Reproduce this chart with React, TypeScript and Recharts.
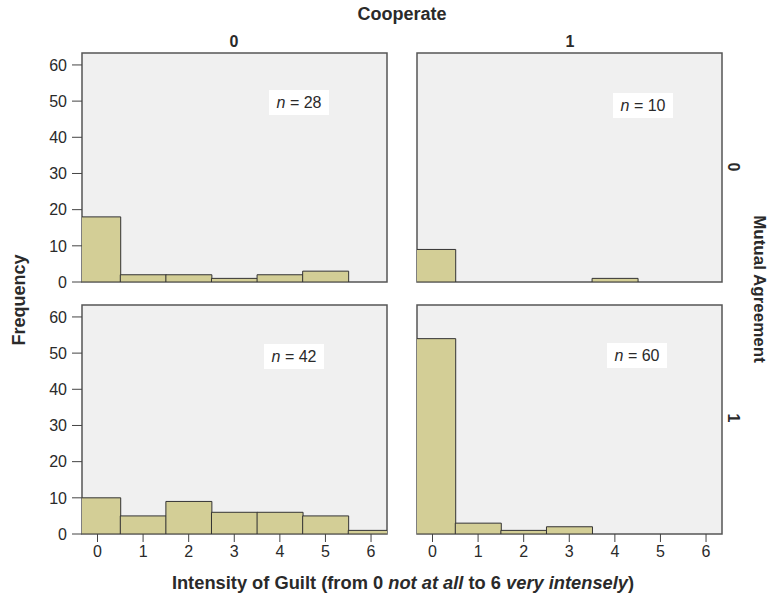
import React from 'react';
import { BarChart, Bar, XAxis, YAxis, CartesianGrid, ReferenceArea } from 'recharts';

// ---- data ----
const guiltLevels = [0, 1, 2, 3, 4, 5, 6];
const coop0Agree0 = [18, 2, 2, 1, 2, 3, 0];
const coop1Agree0 = [9, 0, 0, 0, 1, 0, 0];
const coop0Agree1 = [10, 5, 9, 6, 6, 5, 1];
const coop1Agree1 = [54, 3, 1, 2, 0, 0, 0];
const panelNs = [28, 10, 42, 60];
const yTicks = [0, 10, 20, 30, 40, 50, 60];
const xTicks = [0, 1, 2, 3, 4, 5, 6];
const columnLabels = ['0', '1'];
const rowLabels = ['0', '1'];

const X_DOMAIN: [number, number] = [-0.34, 6.35];
const Y_MAX = 63.3;
const FONT = '"Liberation Sans", Arial, Helvetica, sans-serif';
const TEXT = '#2a2a2a';

type PanelProps = {
  values: number[];
  x: number;
  y: number;
  w: number;
  h: number;
  showY: boolean;
  showX: boolean;
};

function Panel({ values, x, y, w, h, showY, showX }: PanelProps) {
  const data = guiltLevels.map((g, i) => ({ level: g, count: values[i] }));
  const ML = 60, MR = 10, MT = 10, MB = 40;
  return (
    <div style={{ position: 'absolute', left: x - ML, top: y - MT }}>
      <BarChart
        width={w + ML + MR}
        height={h + MT + MB}
        data={data}
        margin={{ top: MT, right: MR, left: showY ? 0 : ML, bottom: showX ? 0 : MB }}
        barCategoryGap={0}
        barGap={0}
      >
        <CartesianGrid horizontal={false} vertical={false} fill="#f0f0f0" />
        <XAxis
          dataKey="level"
          type="number"
          domain={X_DOMAIN}
          ticks={xTicks}
          interval={0}
          allowDataOverflow
          hide={!showX}
          height={MB}
          axisLine={false}
          tickLine={{ stroke: '#444' }}
          tickSize={8}
          tickMargin={4}
          tick={{ fill: TEXT, fontSize: 16, fontFamily: FONT }}
        />
        <YAxis
          type="number"
          domain={[0, Y_MAX]}
          ticks={yTicks}
          interval={0}
          allowDataOverflow
          hide={!showY}
          width={ML}
          axisLine={false}
          tickLine={{ stroke: '#444' }}
          tickSize={10}
          tickMargin={5}
          tick={{ fill: TEXT, fontSize: 16, fontFamily: FONT }}
        />
        <Bar dataKey="count" fill="#d3ce96" stroke="#333" strokeWidth={1} isAnimationActive={false} />
        <ReferenceArea
          x1={X_DOMAIN[0]}
          x2={X_DOMAIN[1]}
          y1={0}
          y2={Y_MAX}
          fill="none"
          fillOpacity={0}
          stroke="#555"
          strokeWidth={1.5}
          ifOverflow="visible"
        />
      </BarChart>
    </div>
  );
}

function NLabel({ n, cx, cy }: { n: number; cx: number; cy: number }) {
  return (
    <div
      style={{
        position: 'absolute',
        left: cx - 30,
        top: cy - 12,
        width: 60,
        height: 25,
        background: '#fff',
        display: 'flex',
        alignItems: 'center',
        justifyContent: 'center',
        fontFamily: FONT,
        fontSize: 16,
        color: TEXT,
        whiteSpace: 'nowrap',
      }}
    >
      <span style={{ fontStyle: 'italic' }}>n</span>&nbsp;=&nbsp;{n}
    </div>
  );
}

const abs = (left: number, top: number, extra: React.CSSProperties = {}): React.CSSProperties => ({
  position: 'absolute',
  left,
  top,
  fontFamily: FONT,
  color: TEXT,
  fontWeight: 'bold',
  whiteSpace: 'nowrap',
  ...extra,
});

export default function App() {
  const PX = [82, 417];
  const PY = [53, 305];
  const W = 305;
  const H = 229;
  return (
    <div style={{ position: 'absolute', left: 0, top: 0, width: 768, height: 602, background: '#fff', overflow: 'hidden' }}>
      <Panel values={coop0Agree0} x={PX[0]} y={PY[0]} w={W} h={H} showY showX={false} />
      <Panel values={coop1Agree0} x={PX[1]} y={PY[0]} w={W} h={H} showY={false} showX={false} />
      <Panel values={coop0Agree1} x={PX[0]} y={PY[1]} w={W} h={H} showY showX />
      <Panel values={coop1Agree1} x={PX[1]} y={PY[1]} w={W} h={H} showY={false} showX />

      <NLabel n={panelNs[0]} cx={299} cy={102} />
      <NLabel n={panelNs[1]} cx={643} cy={105} />
      <NLabel n={panelNs[2]} cx={294} cy={356} />
      <NLabel n={panelNs[3]} cx={637} cy={355} />

      {/* column header */}
      <div style={abs(302, 4, { width: 200, textAlign: 'center', fontSize: 18, lineHeight: '20px' })}>Cooperate</div>
      <div style={abs(184, 32, { width: 100, textAlign: 'center', fontSize: 16, lineHeight: '20px' })}>{columnLabels[0]}</div>
      <div style={abs(520, 32, { width: 100, textAlign: 'center', fontSize: 16, lineHeight: '20px' })}>{columnLabels[1]}</div>

      {/* row header */}
      <div style={abs(683, 157, { width: 100, height: 20, textAlign: 'center', fontSize: 16, lineHeight: '20px', transform: 'rotate(90deg)' })}>{rowLabels[0]}</div>
      <div style={abs(683, 408, { width: 100, height: 20, textAlign: 'center', fontSize: 16, lineHeight: '20px', transform: 'rotate(90deg)' })}>{rowLabels[1]}</div>
      <div style={abs(659, 279, { width: 200, height: 20, textAlign: 'center', fontSize: 17, lineHeight: '20px', transform: 'rotate(90deg)' })}>Mutual Agreement</div>

      {/* y title */}
      <div style={abs(-81, 290, { width: 200, height: 20, textAlign: 'center', fontSize: 18, lineHeight: '20px', transform: 'rotate(-90deg)' })}>Frequency</div>

      {/* x title */}
      <div style={abs(103, 572, { width: 600, textAlign: 'center', fontSize: 18.3, lineHeight: '22px' })}>
        Intensity of Guilt (from 0 <i>not at all</i> to 6 <i>very intensely</i>)
      </div>
    </div>
  );
}
